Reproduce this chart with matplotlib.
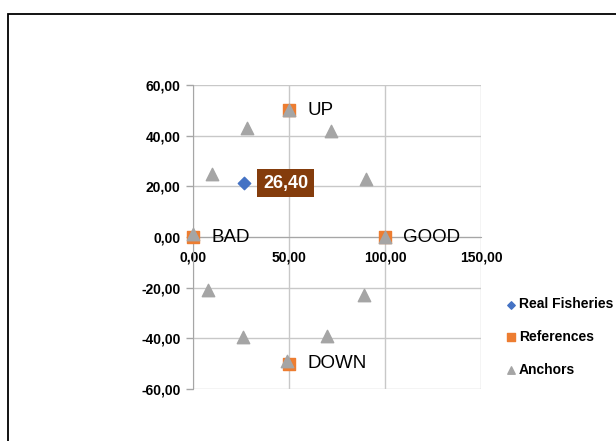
import matplotlib.pyplot as plt
from matplotlib.patches import Rectangle
from matplotlib.ticker import FuncFormatter, MultipleLocator

plt.rcParams['font.family'] = ['Liberation Sans', 'DejaVu Sans']

# data
real_x = [26.40]
real_y = [21.3]
real_labels = ["26,40"]

ref_x = [0, 50, 100, 50]
ref_y = [0, 50, 0, -50]
ref_labels = ["BAD", "UP", "GOOD", "DOWN"]

anchor_x = [0, 10, 28, 50, 72, 90, 100, 89, 70, 49, 26, 8]
anchor_y = [1, 25, 43, 50, 42, 23, 0, -23, -39, -49, -39.5, -21]

fig = plt.figure(figsize=(6.16, 4.41), dpi=100)
ax = fig.add_axes([193 / 616, 1 - 389 / 441, 288 / 616, 304 / 441])

grid_c = '#C8C8C8'
ax.set_xlim(0, 150)
ax.set_ylim(-60, 60)
ax.xaxis.set_major_locator(MultipleLocator(50))
ax.yaxis.set_major_locator(MultipleLocator(20))
ax.grid(True, color=grid_c, lw=1.0)
ax.set_axisbelow(True)

for s in ['top', 'right']:
    ax.spines[s].set_visible(False)
ax.spines['bottom'].set_position(('data', 0))
ax.spines['bottom'].set_color('#A6A6A6')
ax.spines['left'].set_color('#A6A6A6')

fmt = FuncFormatter(lambda v, p: f"{v:.2f}".replace('.', ','))
ax.xaxis.set_major_formatter(fmt)
ax.yaxis.set_major_formatter(fmt)
ax.tick_params(axis='both', colors='#A6A6A6', labelcolor='black', length=5, width=1)
ax.tick_params(axis='x', length=0, pad=10)
ax.tick_params(axis='y', pad=4)
for lab in ax.get_xticklabels() + ax.get_yticklabels():
    lab.set_fontsize(10)
    lab.set_fontweight('bold')

ax.scatter(anchor_x, anchor_y, marker='^', s=80, color='#A5A5A5', zorder=4,
           label='Anchors', clip_on=False)
ax.scatter(ref_x, ref_y, marker='s', s=80, color='#ED7D31', zorder=3,
           label='References', clip_on=False)
ax.scatter(real_x, real_y, marker='D', s=40, color='#4472C4', zorder=5,
           label='Real Fisheries', clip_on=False)

for x, y, t in zip(ref_x, ref_y, ref_labels):
    ax.annotate(t, (x, y), xytext=(13, 0), textcoords='offset points',
                ha='left', va='center', fontsize=13.5, color='black', zorder=6)

for x, y, t in zip(real_x, real_y, real_labels):
    ax.annotate(t, (x, y), xytext=(14, 0), textcoords='offset points',
                ha='left', va='center', fontsize=13, fontweight='bold', color='white',
                bbox=dict(boxstyle='square,pad=0.33', fc='#843C0C', ec='none'), zorder=6)

h, l = ax.get_legend_handles_labels()
order = [2, 1, 0]
fig.legend([h[i] for i in order], [l[i] for i in order], loc='center left',
           bbox_to_anchor=(494 / 616, 1 - 337 / 441), frameon=False,
           prop={'size': 10, 'weight': 'bold'}, handlelength=0.6,
           handletextpad=0.3, labelspacing=1.35, markerscale=0.6)

fig.patches.append(Rectangle((8 / 616, -0.1), 1.2, 1 - 14 / 441 + 0.1,
                             transform=fig.transFigure, fill=False, ec='black', lw=1.3))

fig.savefig('out.png', dpi=100)
